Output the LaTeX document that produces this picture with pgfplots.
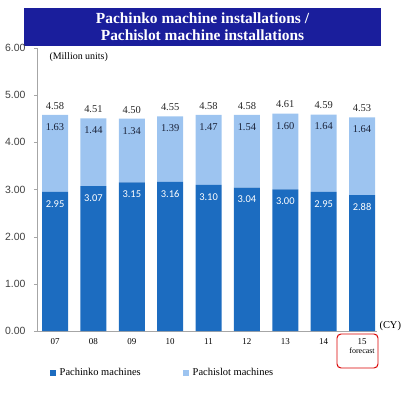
\documentclass[border=0pt]{standalone}
\usepackage{pgfplots}
\pgfplotsset{compat=1.18}
\usepackage{fontspec}
\setmainfont{Liberation Serif}
\newfontfamily\arial{Liberation Sans}
\newfontfamily\calib{Carlito}
\definecolor{darkb}{HTML}{1C6CC0}
\definecolor{lightb}{HTML}{9DC4F0}
\definecolor{titlebg}{HTML}{1A1E9C}
\definecolor{labtxt}{HTML}{1A2238}
\begin{document}
\begin{tikzpicture}[x=1bp,y=1bp]
\useasboundingbox (0,0) rectangle (407,393);
\fill[titlebg] (24,347) rectangle (381,385);
\node[white, font=\bfseries\fontsize{15.5}{17}\selectfont, align=center] at (202.5,366) {Pachinko machine installations /\\ Pachislot machine installations};
\pgfplotsset{common/.style={
  at={(37bp,62bp)}, anchor=south west,
  scale only axis, width=340bp, height=283bp,
  xmin=-0.47, xmax=8.39, ymin=0, ymax=6, clip=false}}
\begin{axis}[common,
  ybar stacked, bar width=26bp,
  axis x line*=bottom, axis y line*=left,
  axis line style={gray!70},
  xtick={0,...,8},
  xticklabels={07,08,09,10,11,12,13,14,{15\\[-1pt]{\fontsize{8}{8.5}\selectfont forecast}}},
  xticklabel style={font=\fontsize{9}{10}\selectfont, align=center, anchor=north, yshift=-1bp},
  xtick style={draw=none},
  ytick={0,1,2,3,4,5,6},
  yticklabels={0.00,1.00,2.00,3.00,4.00,5.00,6.00},
  yticklabel style={font=\arial\fontsize{10.5}{12}\selectfont, text=black!75, xshift=-5bp},
  ytick style={gray!70}, tick align=outside, major tick length=3bp,
  legend style={at={(0.369,-0.147)}, anchor=center, draw=none, fill=none, legend columns=2,
    font=\fontsize{10.5}{12}\selectfont, /tikz/every even column/.append style={column sep=40bp},
    /tikz/every odd column/.append style={column sep=2bp}},
  legend image code/.code={\fill[#1] (0bp,-3bp) rectangle (6bp,3bp);},
  legend entries={Pachinko machines, Pachislot machines},
]
\addplot[fill=darkb, draw=none] table {
x y
0 2.95
1 3.07
2 3.15
3 3.16
4 3.10
5 3.04
6 3.00
7 2.95
8 2.88
};
\addplot[fill=lightb, draw=none] table {
x y
0 1.63
1 1.44
2 1.35
3 1.39
4 1.48
5 1.54
6 1.61
7 1.64
8 1.65
};
\end{axis}
\begin{axis}[common, hide axis, point meta=explicit symbolic, nodes near coords]
% Pachinko labels (white, inside dark bars)
\addplot[draw=none, mark=none,
  every node near coord/.append style={anchor=north, yshift=-5bp, text=white, font=\calib\fontsize{10.5}{12}\selectfont}]
  table[meta=l] {
x y l
0 2.95 2.95
1 3.07 3.07
2 3.15 3.15
3 3.16 3.16
4 3.10 3.10
5 3.04 3.04
6 3.00 3.00
7 2.95 2.95
8 2.88 2.88
};
% Pachislot labels (inside light bars)
\addplot[draw=none, mark=none,
  every node near coord/.append style={anchor=north, yshift=-5bp, text=labtxt, font=\fontsize{10.5}{12}\selectfont}]
  table[meta=l] {
x y l
0 4.58 1.63
1 4.51 1.44
2 4.50 1.34
3 4.55 1.39
4 4.58 1.47
5 4.58 1.54
6 4.61 1.60
7 4.59 1.64
8 4.53 1.64
};
% totals
\addplot[draw=none, mark=none,
  every node near coord/.append style={anchor=south, yshift=2bp, text=black!85, font=\fontsize{10.5}{12}\selectfont}]
  table[meta=l] {
x y l
0 4.58 4.58
1 4.51 4.51
2 4.50 4.50
3 4.55 4.55
4 4.58 4.58
5 4.58 4.58
6 4.61 4.61
7 4.59 4.59
8 4.53 4.53
};
\end{axis}
\node[font=\fontsize{10}{11}\selectfont, anchor=west] at (46,336) {(Million units)};
\node[font=\fontsize{10.5}{11}\selectfont, anchor=west] at (376,67) {(CY)};
\draw[red!85!black, line width=1pt, rounded corners=4pt] (337,25) rectangle (378,59);
\end{tikzpicture}
\end{document}
